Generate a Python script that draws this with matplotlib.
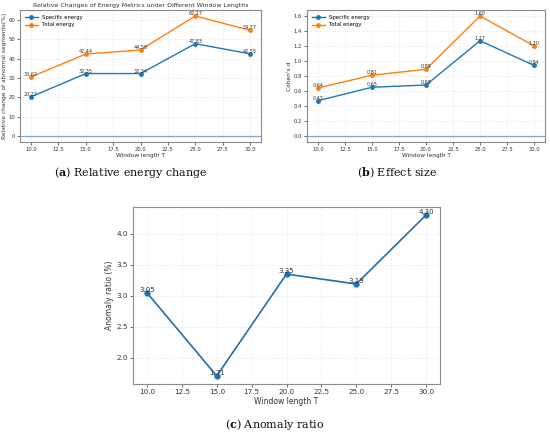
import matplotlib
matplotlib.use("Agg")
import matplotlib.pyplot as plt

windows = [10, 15, 20, 25, 30]
specific_rel = [20.27, 32.35, 32.34, 47.83, 42.55]
total_rel = [30.62, 42.44, 44.58, 62.17, 54.77]
specific_d = [0.47, 0.65, 0.68, 1.27, 0.94]
total_d = [0.64, 0.81, 0.89, 1.60, 1.20]
anomaly = [3.05, 1.71, 3.35, 3.19, 4.30]

plt.rcParams['mathtext.fontset'] = 'custom'
plt.rcParams['mathtext.bf'] = 'DejaVu Serif:bold'
plt.rcParams['mathtext.rm'] = 'DejaVu Serif'

W, H = 550, 436
fig = plt.figure(figsize=(W / 100, H / 100), dpi=100)


def px_axes(l, t, r, b):
    return fig.add_axes([l / W, 1 - b / H, (r - l) / W, (b - t) / H])


def style(ax, fs):
    for s in ax.spines.values():
        s.set_color('#8a8a8a')
        s.set_linewidth(0.8)
    ax.tick_params(labelsize=fs, length=2, width=0.5, pad=1.5, colors='#333333')
    ax.grid(True, color='#dddddd', linestyle='--', linewidth=0.4, alpha=0.7)


def annotate(ax, xs, ys, fs):
    for x, y in zip(xs, ys):
        ax.text(x, y, f'{y:.2f}', ha='center', va='bottom', fontsize=fs, color='#333333')


# Panel a
axa = px_axes(20, 10, 261, 142)
axa.plot(windows, specific_rel, marker='o', ms=2.5, lw=1, color='C0', label='Specific energy')
axa.plot(windows, total_rel, marker='o', ms=2.5, lw=1, color='C1', label='Total energy')
axa.axhline(0, color='#7fa9cc', lw=0.9)
annotate(axa, windows, specific_rel, 3.5)
annotate(axa, windows, total_rel, 3.5)
style(axa, 3.8)
axa.set_title('Relative Changes of Energy Metrics under Different Window Lengths', fontsize=4.5, pad=2.5, color='#333333')
axa.set_xlabel('Window length T', fontsize=4.2, labelpad=1, color='#333333')
axa.set_ylabel('Relative change of abnormal segments(%)', fontsize=4.2, labelpad=1, color='#333333')
axa.legend(loc='upper left', fontsize=3.8, frameon=False, handlelength=2.5)

# Panel b
axb = px_axes(307, 10, 545, 142)
axb.plot(windows, specific_d, marker='o', ms=2.5, lw=1, color='C0', label='Specific energy')
axb.plot(windows, total_d, marker='o', ms=2.5, lw=1, color='C1', label='Total energy')
axb.axhline(0, color='#7fa9cc', lw=0.9)
annotate(axb, windows, specific_d, 3.5)
annotate(axb, windows, total_d, 3.5)
style(axb, 3.8)
axb.set_xlabel('Window length T', fontsize=4.2, labelpad=1, color='#333333')
axb.set_ylabel("Cohen's d", fontsize=4.2, labelpad=1, color='#333333')
axb.legend(loc='upper left', fontsize=3.8, frameon=False, handlelength=2.5)

# Panel c
axc = px_axes(133, 207, 440, 384)
axc.plot(windows, anomaly, marker='o', ms=3.5, lw=1.2, color='#1f6fb4')
annotate(axc, windows, anomaly, 5)
style(axc, 5.2)
axc.set_xlabel('Window length T', fontsize=5.5, labelpad=1.5, color='#333333')
axc.set_ylabel('Anomaly ratio (%)', fontsize=5.5, labelpad=2, color='#333333')

# Captions
cap = dict(fontsize=8, family='DejaVu Serif', ha='center', va='center', color='#111111')
fig.text(131 / W, 1 - 173 / H, r'($\mathbf{a}$) Relative energy change', **cap)
fig.text(397 / W, 1 - 173 / H, r'($\mathbf{b}$) Effect size', **cap)
fig.text(275 / W, 1 - 424 / H, r'($\mathbf{c}$) Anomaly ratio', **cap)

fig.savefig('out.png', dpi=100)
